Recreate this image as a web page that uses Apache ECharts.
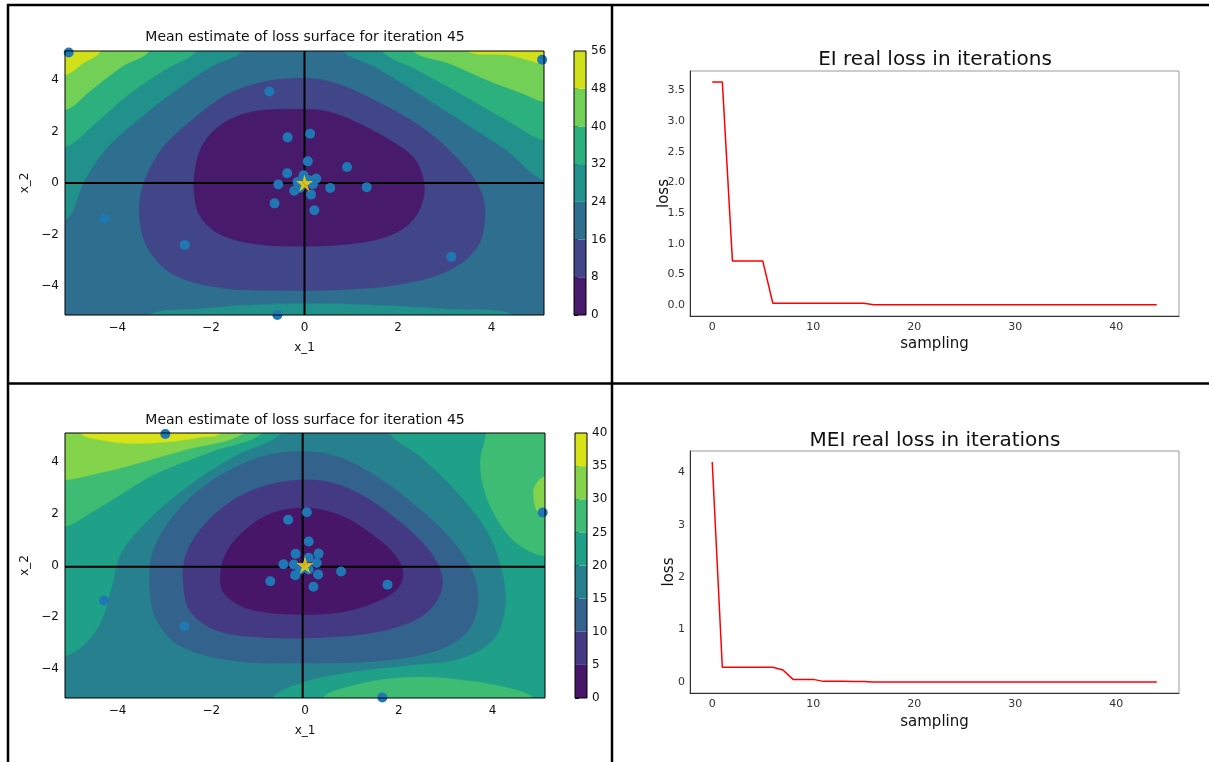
<!DOCTYPE html>
<html><head><meta charset="utf-8">
<script src="https://cdn.jsdelivr.net/npm/echarts@6/dist/echarts.min.js"></script>
<style>html,body{margin:0;padding:0;background:#fff}#c{width:1209px;height:762px}</style>
</head><body><div id="c"></div>
<script>
// ---------------- DATA ----------------
const title1 = 'Mean estimate of loss surface for iteration 45';
const titleEI = 'EI real loss in iterations';
const titleMEI = 'MEI real loss in iterations';
const levels1 = [0, 8, 16, 24, 32, 40, 48, 56];
const levels2 = [0, 5, 10, 15, 20, 25, 30, 35, 40];
const ticksXY = [-4, -2, 0, 2, 4];
const ticksSampling = [0, 10, 20, 30, 40];
const ticksEI = [0, 0.5, 1, 1.5, 2, 2.5, 3, 3.5];
const ticksMEI = [0, 1, 2, 3, 4];

// contour 1 level-set boundaries (x_1, x_2); band = index of level interval
const p1_gt24_left  = [[-1.33,6],[-1.33,5.12],[-1.99,4.52],[-2.74,3.61],[-3.57,2.44],[-4.25,1.3],[-4.7,0.1],[-5.12,-1.45],[-6,-1.45],[-6,6]];
const p1_gt24_right = [[0.83,6],[0.83,5.12],[1.49,4.52],[2.32,3.61],[3.32,2.44],[4.32,1.27],[5.12,0.1],[6,0.1],[6,6]];
const p1_gt24_bot   = [[-3.32,-6],[-3.32,-5.12],[-2.32,-4.9],[-1.08,-4.73],[0,-4.68],[1.41,-4.73],[3.07,-4.9],[4.48,-5.12],[4.48,-6]];
const p1_gt32_left  = [[-2.32,6],[-2.32,5.12],[-2.99,4.39],[-3.73,3.48],[-4.40,2.44],[-5.12,1.40],[-6,1.40],[-6,6]];
const p1_gt32_right = [[1.66,6],[1.66,5.12],[2.41,4.39],[3.32,3.48],[4.32,2.44],[5.12,1.66],[6,1.66],[6,6]];
const p1_gt40_left  = [[-3.32,6],[-3.32,5.12],[-3.90,4.52],[-4.56,3.61],[-5.12,2.83],[-6,2.83],[-6,6]];
const p1_gt40_right = [[2.32,6],[2.32,5.12],[3.07,4.65],[3.90,4.0],[4.65,3.48],[5.12,3.16],[6,3.16],[6,6]];
const p1_gt48_left  = [[-4.36,6],[-4.36,5.12],[-4.73,4.65],[-5.12,4.19],[-6,4.19],[-6,6]];
const p1_gt48_right = [[3.49,6],[3.49,5.12],[4.32,4.97],[4.90,4.71],[5.12,4.58],[6,4.58],[6,6]];
const p1_lt16 = [[0,4.06],[-0.83,3.94],[-1.66,3.42],[-2.49,2.31],[-3.07,1.27],[-3.44,-0.03],[-3.53,-1.19],[-3.36,-2.49],[-2.82,-3.53],[-1.83,-4.05],[-0.66,-4.16],[0.83,-4.13],[2.07,-3.92],[3.07,-3.40],[3.69,-2.49],[3.86,-1.19],[3.73,-0.16],[3.24,1.01],[2.49,2.18],[1.49,3.22],[0.66,3.87]];
const p1_lt8  = [[-0.17,2.86],[-1.08,2.77],[-1.74,2.31],[-2.16,1.53],[-2.34,0.49],[-2.35,-0.55],[-2.22,-1.32],[-1.83,-1.97],[-1.08,-2.36],[-0.25,-2.45],[0.75,-2.40],[1.66,-2.13],[2.24,-1.58],[2.53,-0.68],[2.53,0.23],[2.32,1.01],[1.83,1.66],[1.16,2.31],[0.50,2.77]];

// contour 2 level-set boundaries
const p2_gt20_left  = [[-0.5,6],[-0.5,5.12],[-1.52,4.21],[-2.51,3.05],[-3.34,1.77],[-3.92,0.49],[-4.12,-0.79],[-4.33,-2.08],[-4.66,-2.97],[-5.12,-3.49],[-6,-3.49],[-6,6]];
const p2_gt20_right = [[1.80,6],[1.80,5.12],[2.46,4.21],[3.2,2.92],[3.87,1.38],[4.20,-0.15],[4.28,-1.56],[4.03,-2.85],[3.29,-3.62],[2.21,-3.87],[0.97,-4.13],[-0.02,-4.51],[-0.69,-5.12],[-0.69,-6],[6,-6],[6,6]];
const p2_gt25_left  = [[-0.9,6],[-0.9,5.12],[-2.0,4.40],[-3.17,3.56],[-4.0,2.67],[-4.58,2.03],[-5.12,1.51],[-6,1.51],[-6,6]];
const p2_gt25_right = [[3.87,6],[3.87,5.12],[3.74,3.95],[3.87,2.67],[4.20,1.51],[4.61,0.74],[5.12,0.36],[6,0.36],[6,6]];
const p2_gt25_bot   = [[0.39,-6],[0.39,-5.12],[0.97,-4.67],[1.80,-4.38],[2.63,-4.32],[3.45,-4.45],[4.28,-4.71],[4.86,-5.12],[4.86,-6]];
const p2_gt30_left  = [[-1.3,6],[-1.3,5.12],[-2.6,4.45],[-3.83,3.82],[-4.58,3.50],[-5.12,3.31],[-6,3.31],[-6,6]];
const p2_gt30_right = [[6,3.44],[5.12,3.44],[4.90,3.05],[4.88,2.67],[4.94,2.15],[5.12,1.90],[6,1.90]];
const p2_gt35_left  = [[-4.79,6],[-4.79,5.12],[-4.33,4.85],[-3.75,4.72],[-2.92,4.78],[-2.26,4.95],[-1.81,5.12],[-1.81,6]];
const p2_lt15 = [[0.06,4.40],[-0.77,4.27],[-1.60,3.69],[-2.34,2.79],[-2.92,1.64],[-3.25,0.49],[-3.31,-0.79],[-3.17,-2.08],[-2.67,-3.10],[-1.52,-3.68],[0.06,-3.77],[1.63,-3.68],[2.79,-3.29],[3.45,-2.59],[3.69,-1.44],[3.58,-0.28],[3.12,1.0],[2.38,2.28],[1.63,3.31],[0.80,4.14]];
const p2_lt10 = [[0.06,3.31],[-0.77,3.12],[-1.52,2.54],[-2.18,1.51],[-2.55,0.36],[-2.59,-0.79],[-2.43,-1.82],[-1.85,-2.53],[-0.85,-2.78],[0.31,-2.78],[1.47,-2.59],[2.38,-2.08],[2.83,-1.31],[2.92,-0.41],[2.63,0.62],[2.05,1.64],[1.38,2.54],[0.72,3.12]];
const p2_lt5  = [[0.06,2.22],[-0.69,2.03],[-1.27,1.38],[-1.68,0.49],[-1.81,-0.54],[-1.68,-1.18],[-1.18,-1.69],[-0.27,-1.88],[0.72,-1.82],[1.47,-1.44],[1.96,-0.92],[2.09,-0.28],[1.88,0.49],[1.38,1.26],[0.80,1.90]];

// sampled points
const p1_x1 = [-5.04, 5.08, -0.75, -0.36, 0.12, 0.07, 0.91, -0.37, -0.56, -0.22, 0.25, 0.14, 0.55, 1.33, -0.64, 0.21, -4.27, -2.56, 3.14, -0.58, -0.15, -0.02, 0.18, -0.10, 0.08];
const p1_x2 = [5.06, 4.78, 3.55, 1.77, 1.91, 0.84, 0.62, 0.38, -0.06, -0.30, 0.17, -0.45, -0.19, -0.16, -0.79, -1.06, -1.39, -2.40, -2.86, -5.12, 0.04, 0.30, -0.05, -0.18, 0.12];
const p2_x1 = [-2.98, 5.07, 1.65, -4.29, -2.57, -0.36, 0.04, 0.08, -0.20, 0.29, -0.46, -0.21, 0.28, 0.77, -0.74, 0.18, 1.76, 0.08, 0.25, -0.24, -0.10, 0.08];
const p2_x2 = [5.08, 2.05, -5.1, -1.35, -2.35, 1.77, 2.06, 0.93, 0.45, 0.46, 0.05, -0.38, -0.35, -0.23, -0.61, -0.82, -0.74, 0.30, 0.10, 0.04, -0.15, -0.15];
const best1 = [0, 0];
const best2 = [0, 0.02];
const cross1 = [0, 0];
const cross2 = [-0.05, -0.05];

// loss curves
const eiLoss = [3.64,3.64,0.72,0.72,0.72,0.72,0.028,0.028,0.028,0.028,0.028,0.028,0.028,0.028,0.028,0.028,
  0.003,0.003,0.003,0.003,0.003,0.003,0.003,0.003,0.003,0.003,0.003,0.003,0.003,0.003,0.003,0.003,0.003,0.003,0.003,0.003,0.003,0.003,0.003,0.003,0.003,0.003,0.003,0.003,0.003];
const meiLoss = [4.2,0.28,0.28,0.28,0.28,0.28,0.28,0.23,0.05,0.05,0.05,0.012,0.012,0.012,0.011,0.01,
  0.002,0.002,0.002,0.002,0.002,0.002,0.002,0.002,0.002,0.002,0.002,0.002,0.002,0.002,0.002,0.002,0.002,0.002,0.002,0.002,0.002,0.002,0.002,0.002,0.002,0.002,0.002,0.002,0.002];

// ---------------- STYLE / BUILD ----------------
const FONT = 'DejaVu Sans';
const colors1 = ['#481a6c','#404688','#2e6e8e','#21918c','#2cb17e','#73d056','#d0e11c'];
const colors2 = ['#481668','#443a83','#33638d','#27808e','#1fa088','#3fbc73','#84d44b','#d8e219'];

const regions1 = [
  {band:2, bg:true},
  {band:3, pts:p1_gt24_left},{band:3, pts:p1_gt24_right},{band:3, pts:p1_gt24_bot},
  {band:4, pts:p1_gt32_left},{band:4, pts:p1_gt32_right},
  {band:5, pts:p1_gt40_left},{band:5, pts:p1_gt40_right},
  {band:6, pts:p1_gt48_left},{band:6, pts:p1_gt48_right},
  {band:1, pts:p1_lt16},{band:0, pts:p1_lt8}
];
const regions2 = [
  {band:3, bg:true},
  {band:4, pts:p2_gt20_left},{band:4, pts:p2_gt20_right},
  {band:5, pts:p2_gt25_left},{band:5, pts:p2_gt25_right},{band:5, pts:p2_gt25_bot},
  {band:6, pts:p2_gt30_left},{band:6, pts:p2_gt30_right},
  {band:7, pts:p2_gt35_left},
  {band:2, pts:p2_lt15},{band:1, pts:p2_lt10},{band:0, pts:p2_lt5}
];

const minus = v => (v < 0 ? '\u2212' + Math.abs(v) : String(v));
const STAR = 'path://M50,0 L61,35 L98,35 L68,57 L79,91 L50,70 L21,91 L32,57 L2,35 L39,35 Z';

function contourSeries(ax, regions, colors) {
  return {
    type:'custom', xAxisIndex:ax, yAxisIndex:ax, clip:true, silent:true, z:1,
    data: regions.map(() => [0, 0]),
    renderItem(params, api) {
      const r = regions[params.dataIndex];
      const cs = params.coordSys;
      if (r.bg) return {type:'rect', z2:params.dataIndex, shape:{x:cs.x,y:cs.y,width:cs.width,height:cs.height}, style:{fill:colors[r.band]}};
      return {type:'polygon', z2:params.dataIndex, shape:{points:r.pts.map(p => api.coord(p)), smooth:0.35}, style:{fill:colors[r.band], stroke:colors[r.band], lineWidth:0.5}};
    }
  };
}
function crossSeries(ax, c) {
  return {
    type:'custom', xAxisIndex:ax, yAxisIndex:ax, silent:true, z:3, data:[c],
    renderItem(params, api) {
      const cs = params.coordSys; const p = api.coord([api.value(0), api.value(1)]);
      return {type:'group', children:[
        {type:'line', shape:{x1:cs.x, y1:p[1], x2:cs.x+cs.width, y2:p[1]}, style:{stroke:'#000', lineWidth:2}},
        {type:'line', shape:{x1:p[0], y1:cs.y, x2:p[0], y2:cs.y+cs.height}, style:{stroke:'#000', lineWidth:2}}
      ]};
    }
  };
}
function frameSeries(ax) {
  return {
    type:'custom', xAxisIndex:ax, yAxisIndex:ax, silent:true, z:6, data:[[0,0]],
    renderItem(params) {
      const cs = params.coordSys;
      return {type:'rect', shape:{x:cs.x, y:cs.y, width:cs.width, height:cs.height}, style:{fill:'none', stroke:'#000', lineWidth:1}};
    }
  };
}
function cbarSeries(ax, levels, colors) {
  return {
    type:'custom', xAxisIndex:ax, yAxisIndex:ax, silent:true, z:1,
    data: levels.slice(0, -1).map((lo, i) => [lo, levels[i+1]]),
    renderItem(params, api) {
      const a = api.coord([0, api.value(0)]), b = api.coord([1, api.value(1)]);
      return {type:'rect', shape:{x:a[0], y:b[1], width:b[0]-a[0], height:a[1]-b[1]}, style:{fill:colors[params.dataIndex]}};
    }
  };
}
function scatterSeries(ax, xs, ys) {
  return {type:'scatter', xAxisIndex:ax, yAxisIndex:ax, z:4, symbolSize:10, silent:true,
    itemStyle:{color:'#1f77b4', opacity:1}, data: xs.map((x, i) => [x, ys[i]])};
}
function starSeries(ax, p) {
  return {type:'scatter', xAxisIndex:ax, yAxisIndex:ax, z:5, symbol:STAR, symbolSize:17, silent:true,
    itemStyle:{color:'#ffd700'}, data:[p]};
}

const contourX = (g) => ({gridIndex:g, type:'value', min:-5.12, max:5.12,
  axisLine:{show:false}, splitLine:{show:false},
  axisTick:{show:true, length:4, lineStyle:{color:'#000', width:1}, customValues:ticksXY},
  axisLabel:{customValues:ticksXY, formatter:minus, fontSize:12, color:'#111', margin:7, fontFamily:FONT},
  name:'x_1', nameLocation:'middle', nameGap:27, nameTextStyle:{fontSize:12, color:'#111', fontFamily:FONT}});
const contourY = (g) => ({gridIndex:g, type:'value', min:-5.12, max:5.12,
  axisLine:{show:false}, splitLine:{show:false},
  axisTick:{show:true, length:4, lineStyle:{color:'#000', width:1}, customValues:ticksXY},
  axisLabel:{customValues:ticksXY, formatter:minus, fontSize:12, color:'#111', margin:6, fontFamily:FONT},
  name:'x_2', nameLocation:'middle', nameGap:34, nameTextStyle:{fontSize:12, color:'#111', fontFamily:FONT}});
const cbarX = (g) => ({gridIndex:g, type:'value', min:0, max:1, show:false});
const cbarY = (g, levels) => ({gridIndex:g, type:'value', position:'right', min:levels[0], max:levels[levels.length-1], interval:levels[1]-levels[0],
  axisLine:{show:false}, splitLine:{show:false},
  axisTick:{show:true, length:4, lineStyle:{color:'#000'}},
  axisLabel:{fontSize:12, color:'#111', margin:5, fontFamily:FONT}});
const lineX = (g, gap) => ({gridIndex:g, type:'value', min:-2.2, max:46.2,
  axisLine:{show:true, onZero:false, lineStyle:{color:'#333'}}, splitLine:{show:false},
  axisTick:{show:false, customValues:ticksSampling},
  axisLabel:{customValues:ticksSampling, fontSize:11, color:'#333', margin:6, fontFamily:FONT},
  name:'sampling', nameLocation:'middle', nameGap:gap, nameTextStyle:{fontSize:15, color:'#111', fontFamily:FONT}});
const lineY = (g, min, max, ticks, fmt, gap) => ({gridIndex:g, type:'value', min:min, max:max,
  axisLine:{show:true, onZero:false, lineStyle:{color:'#333'}}, splitLine:{show:false},
  axisTick:{show:false, customValues:ticks},
  axisLabel:{customValues:ticks, formatter:fmt, fontSize:11, color:'#333', margin:5, fontFamily:FONT},
  name:'loss', nameLocation:'middle', nameGap:gap, nameMoveOverlap:false, nameTextStyle:{fontSize:15, color:'#111', fontFamily:FONT}});

const option = {
  animation:false,
  backgroundColor:'#fff',
  textStyle:{fontFamily:FONT},
  title:[
    {text:title1, left:305, top:30, textAlign:'center', padding:0, textStyle:{fontSize:14, fontWeight:'normal', color:'#111', fontFamily:FONT}},
    {text:titleEI, left:935, top:50, textAlign:'center', padding:0, textStyle:{fontSize:20, fontWeight:'normal', color:'#111', fontFamily:FONT}},
    {text:title1, left:305, top:413, textAlign:'center', padding:0, textStyle:{fontSize:14, fontWeight:'normal', color:'#111', fontFamily:FONT}},
    {text:titleMEI, left:935, top:431, textAlign:'center', padding:0, textStyle:{fontSize:20, fontWeight:'normal', color:'#111', fontFamily:FONT}}
  ],
  grid:[
    {left:65, top:51, width:479, height:264},
    {left:574, top:51, width:12, height:264},
    {left:690, top:71, width:489, height:245, show:true, borderColor:'#999', borderWidth:1},
    {left:65, top:433, width:480, height:265},
    {left:575, top:433, width:12, height:265},
    {left:690, top:451, width:489, height:242, show:true, borderColor:'#999', borderWidth:1}
  ],
  xAxis:[contourX(0), cbarX(1), lineX(2, 21), contourX(3), cbarX(4), lineX(5, 22)],
  yAxis:[contourY(0), cbarY(1, levels1),
    lineY(2, -0.18, 3.82, ticksEI, v => v.toFixed(1), 18),
    contourY(3), cbarY(4, levels2),
    lineY(5, -0.21, 4.41, ticksMEI, v => String(v), 13)],
  series:[
    contourSeries(0, regions1, colors1), crossSeries(0, cross1), scatterSeries(0, p1_x1, p1_x2), starSeries(0, best1), frameSeries(0),
    cbarSeries(1, levels1, colors1), frameSeries(1),
    {type:'line', xAxisIndex:2, yAxisIndex:2, showSymbol:false, silent:true, data:eiLoss.map((v, i) => [i, v]), lineStyle:{color:'#ff0000', width:1.5}, itemStyle:{color:'#ff0000'}},
    contourSeries(3, regions2, colors2), crossSeries(3, cross2), scatterSeries(3, p2_x1, p2_x2), starSeries(3, best2), frameSeries(3),
    cbarSeries(4, levels2, colors2), frameSeries(4),
    {type:'line', xAxisIndex:5, yAxisIndex:5, showSymbol:false, silent:true, data:meiLoss.map((v, i) => [i, v]), lineStyle:{color:'#ff0000', width:1.5}, itemStyle:{color:'#ff0000'}}
  ],
  graphic:[
    {type:'line', z:100, shape:{x1:7, y1:5, x2:1209, y2:5}, style:{stroke:'#000', lineWidth:2.5}},
    {type:'line', z:100, shape:{x1:8, y1:4, x2:8, y2:762}, style:{stroke:'#000', lineWidth:2.5}},
    {type:'line', z:100, shape:{x1:612, y1:4, x2:612, y2:762}, style:{stroke:'#000', lineWidth:2.5}},
    {type:'line', z:100, shape:{x1:7, y1:383.5, x2:1209, y2:383.5}, style:{stroke:'#000', lineWidth:2.5}}
  ]
};
const chart = echarts.init(document.getElementById('c'), null, {renderer:'canvas'});
chart.setOption(option);
</script></body></html>
